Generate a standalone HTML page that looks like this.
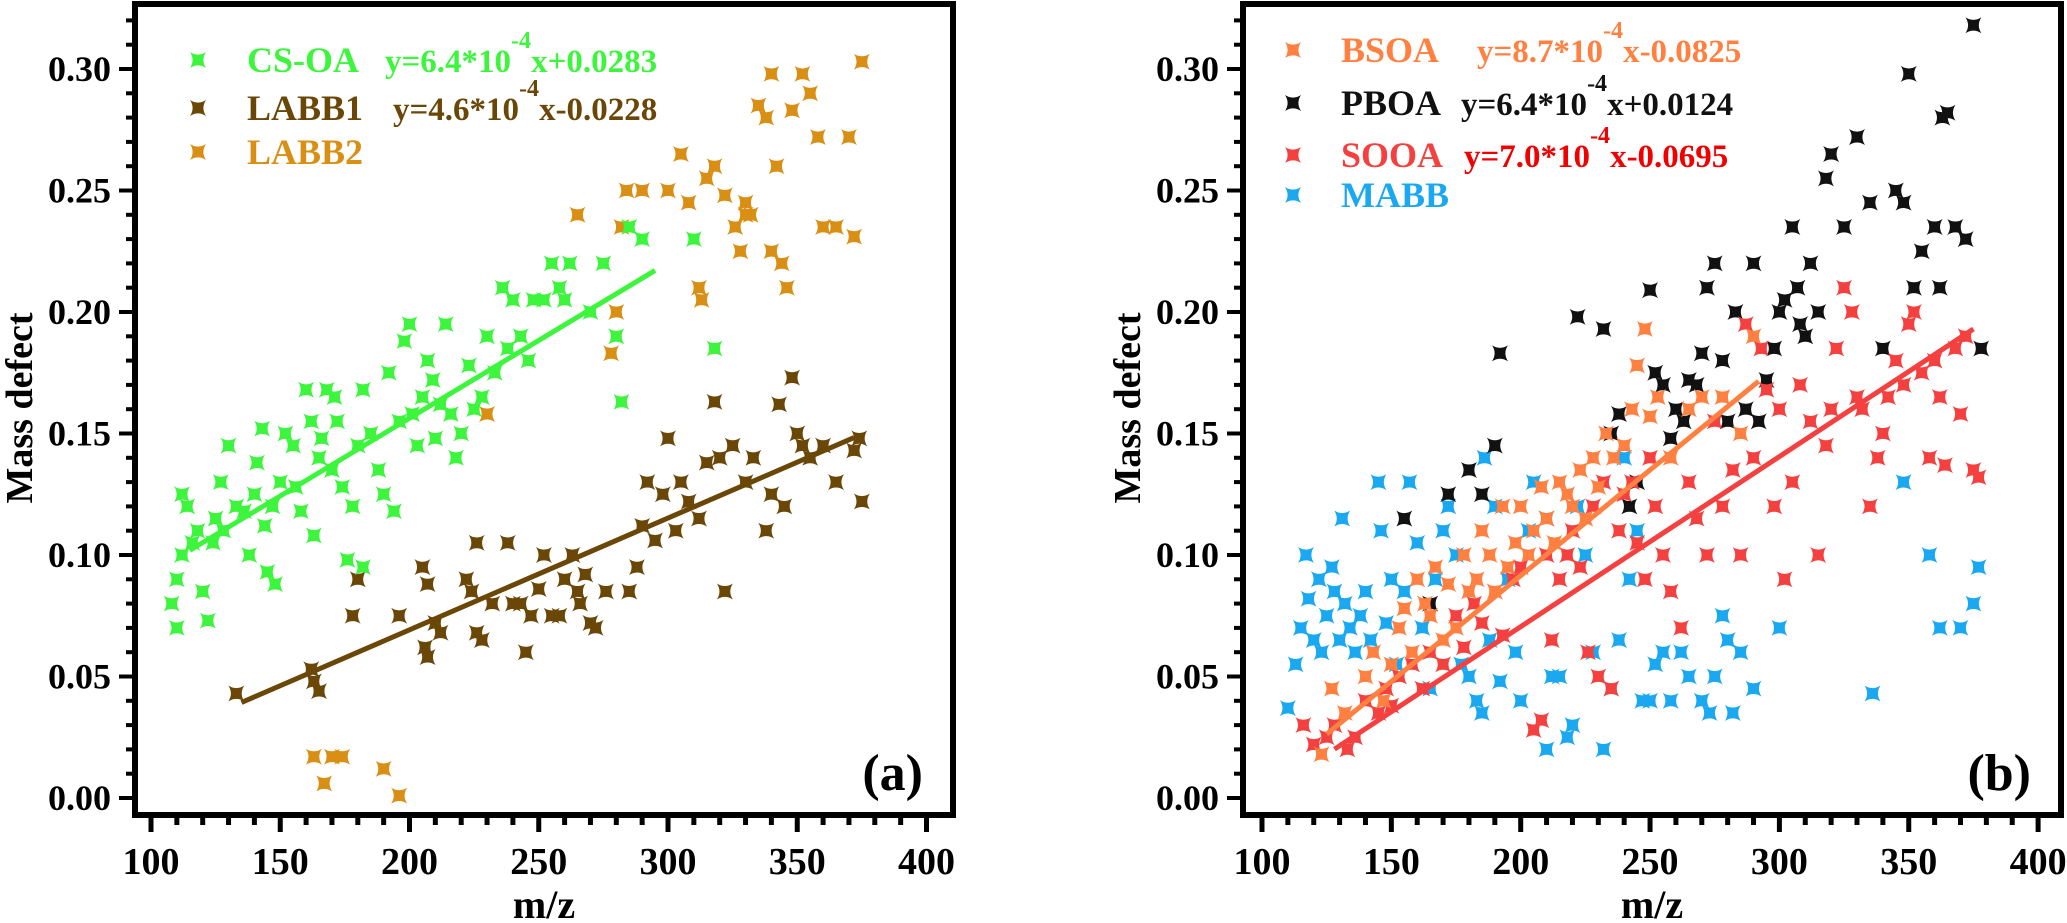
<!DOCTYPE html>
<html><head><meta charset="utf-8"><style>
html,body{margin:0;padding:0;background:#fff;}
svg{display:block;}
svg text{font-family:"Liberation Serif","Times New Roman","DejaVu Serif Condensed","DejaVu Serif",serif !important;font-weight:bold;}
</style></head><body>
<svg id="chart" width="2067" height="923" viewBox="0 0 2067 923" xmlns="http://www.w3.org/2000/svg" font-weight="bold"></svg>
<script>
// ---- Panel (a) data ----
const csoaX=[108,110,110,112,112,114,116,118,120,122,124,125,127,128,130,133,136,138,140,141,143,144,145,147,148,150,152,155,156,158,160,162,163,165,166,168,170,171,172,174,176,178,180,182,182,185,188,190,192,194,196,198,200,201,203,205,207,209,210,212,214,216,218,220,223,225,228,230,233,236,238,240,243,246,248,252,255,258,260,262,270,275,280,282,285,290,310,318];
const csoaY=[0.08,0.09,0.07,0.10,0.125,0.12,0.105,0.11,0.085,0.073,0.105,0.115,0.13,0.11,0.145,0.12,0.118,0.10,0.125,0.138,0.152,0.112,0.093,0.12,0.088,0.13,0.15,0.145,0.128,0.118,0.168,0.155,0.108,0.14,0.148,0.168,0.135,0.165,0.155,0.128,0.098,0.12,0.145,0.168,0.095,0.15,0.135,0.125,0.175,0.118,0.155,0.188,0.195,0.158,0.145,0.165,0.18,0.172,0.148,0.162,0.195,0.158,0.14,0.15,0.178,0.16,0.165,0.19,0.175,0.21,0.185,0.205,0.19,0.18,0.205,0.205,0.22,0.21,0.205,0.22,0.2,0.22,0.19,0.163,0.235,0.23,0.23,0.185];
const labb1X=[133,162,163,165,180,178,196,205,207,206,207,210,212,222,224,226,226,228,232,238,240,243,245,247,250,252,255,258,260,263,265,266,268,270,272,276,285,288,290,292,295,298,300,303,305,308,312,315,318,320,322,325,330,333,338,340,343,345,348,350,352,355,360,365,372,375,374];
const labb1Y=[0.043,0.053,0.048,0.044,0.09,0.075,0.075,0.095,0.088,0.062,0.058,0.072,0.068,0.09,0.085,0.105,0.068,0.065,0.08,0.105,0.08,0.08,0.06,0.075,0.086,0.1,0.075,0.075,0.09,0.1,0.085,0.08,0.092,0.072,0.07,0.085,0.085,0.095,0.112,0.13,0.106,0.125,0.148,0.11,0.13,0.122,0.115,0.138,0.163,0.14,0.085,0.145,0.13,0.14,0.11,0.125,0.162,0.12,0.173,0.15,0.145,0.14,0.145,0.13,0.143,0.122,0.148];
const labb2X=[163,167,170,174,190,196,230,265,278,280,282,284,290,300,305,308,312,313,315,318,322,326,328,330,332,335,338,340,342,344,346,348,352,355,358,360,365,370,372,375,340,330];
const labb2Y=[0.017,0.006,0.017,0.017,0.012,0.001,0.158,0.24,0.183,0.2,0.235,0.25,0.25,0.25,0.265,0.245,0.21,0.205,0.255,0.26,0.248,0.235,0.225,0.245,0.24,0.285,0.28,0.298,0.26,0.22,0.21,0.283,0.298,0.29,0.272,0.235,0.235,0.272,0.231,0.303,0.225,0.24];
// ---- Panel (b) data ----
const bsoaX=[123,127,132,140,143,147,150,153,155,158,160,163,165,167,170,172,175,178,180,183,185,188,190,193,195,198,200,203,205,208,210,213,215,218,220,223,225,228,230,233,236,240,243,245,248,250,253,258,265,270,278,285,290];
const bsoaY=[0.018,0.045,0.035,0.05,0.06,0.04,0.055,0.07,0.078,0.06,0.09,0.08,0.075,0.095,0.065,0.088,0.07,0.1,0.085,0.09,0.11,0.1,0.085,0.12,0.095,0.105,0.12,0.1,0.11,0.128,0.115,0.105,0.13,0.125,0.12,0.135,0.115,0.14,0.128,0.15,0.14,0.145,0.16,0.178,0.193,0.157,0.165,0.14,0.16,0.165,0.165,0.15,0.19];
const pboaX=[155,165,172,180,185,190,192,210,222,232,235,238,242,245,250,252,255,258,260,263,265,268,270,272,275,278,280,283,287,290,292,295,298,300,302,305,307,308,310,312,315,318,320,325,330,335,340,345,348,350,352,355,360,362,363,365,368,372,375,378];
const pboaY=[0.115,0.08,0.125,0.135,0.125,0.145,0.183,0.115,0.198,0.193,0.15,0.158,0.12,0.13,0.209,0.175,0.17,0.148,0.16,0.155,0.172,0.17,0.183,0.21,0.22,0.18,0.155,0.2,0.16,0.22,0.155,0.172,0.185,0.2,0.205,0.235,0.21,0.195,0.19,0.22,0.2,0.255,0.265,0.235,0.272,0.245,0.185,0.25,0.245,0.298,0.21,0.225,0.235,0.21,0.28,0.282,0.235,0.23,0.318,0.185];
const sooaX=[116,120,125,128,133,136,140,145,148,150,153,158,162,165,170,175,178,182,185,190,193,197,200,205,208,210,212,215,218,220,223,226,228,230,232,235,238,240,243,245,248,250,252,255,258,262,265,268,272,275,278,282,285,287,290,293,295,298,300,302,305,308,312,315,318,320,322,325,328,330,332,335,338,340,342,345,348,350,352,355,358,360,362,364,368,370,372,375,377];
const sooaY=[0.03,0.022,0.025,0.03,0.02,0.025,0.04,0.035,0.045,0.038,0.05,0.055,0.045,0.06,0.055,0.075,0.062,0.08,0.072,0.085,0.067,0.09,0.095,0.028,0.032,0.1,0.065,0.09,0.1,0.11,0.095,0.06,0.12,0.05,0.13,0.045,0.11,0.125,0.13,0.105,0.09,0.14,0.12,0.1,0.085,0.07,0.13,0.115,0.1,0.155,0.12,0.135,0.1,0.195,0.14,0.185,0.168,0.12,0.16,0.09,0.13,0.17,0.155,0.1,0.145,0.16,0.185,0.21,0.2,0.165,0.16,0.12,0.14,0.15,0.165,0.18,0.17,0.195,0.2,0.175,0.14,0.18,0.165,0.137,0.185,0.158,0.19,0.135,0.132];
const mabbX=[110,113,115,117,118,120,122,123,125,127,128,130,131,132,134,136,138,140,142,145,146,148,150,152,155,157,160,162,165,167,170,172,175,177,180,183,185,186,188,190,192,195,198,200,203,205,210,212,215,218,220,222,225,228,232,235,238,240,242,245,247,250,252,255,258,262,265,270,273,275,278,280,282,285,290,300,358,362,370,375,377,336,348];
const mabbY=[0.037,0.055,0.07,0.1,0.082,0.065,0.09,0.06,0.075,0.095,0.085,0.065,0.115,0.08,0.07,0.06,0.075,0.085,0.065,0.13,0.11,0.072,0.09,0.055,0.085,0.13,0.105,0.07,0.045,0.09,0.11,0.12,0.1,0.055,0.05,0.04,0.035,0.14,0.065,0.12,0.048,0.09,0.06,0.04,0.11,0.13,0.02,0.05,0.05,0.025,0.03,0.12,0.1,0.06,0.02,0.045,0.065,0.14,0.09,0.11,0.04,0.04,0.055,0.06,0.04,0.06,0.05,0.04,0.035,0.05,0.075,0.065,0.035,0.06,0.045,0.07,0.1,0.07,0.07,0.08,0.095,0.043,0.13];
const xTicks=[100,150,200,250,300,350,400];
const yTicks=[0.00,0.05,0.10,0.15,0.20,0.25,0.30];
const yTickLabels=["0.00","0.05","0.10","0.15","0.20","0.25","0.30"];

const NS="http://www.w3.org/2000/svg";
const svg=document.getElementById('chart');
function mk(tag,attrs,parent){const e=document.createElementNS(NS,tag);for(const k in attrs)e.setAttribute(k,attrs[k]);(parent||svg).appendChild(e);return e;}
function star(cx,cy,r){return `M${cx-r},${cy-r} Q${cx},${cy-r*0.35} ${cx+r},${cy-r} Q${cx+r*0.35},${cy} ${cx+r},${cy+r} Q${cx},${cy+r*0.35} ${cx-r},${cy+r} Q${cx-r*0.35},${cy} ${cx-r},${cy-r}Z`;}

function makePanel(p){
  const g=mk('g',{});
  
  
  const X=v=>p.x0+(v-100)*p.sx;
  const Y=v=>798-v*2430;
  for(let v=100;v<=400;v+=10){
    const major=(v%50===0);
    const t=mk('line',{x1:X(v),x2:X(v),y1:815,y2:major?832:825,stroke:'#000','stroke-width':5},g);
    
    
  }
  for(let i=0;i<=32;i++){
    const v=i/100;const major=(i%5===0);
    const t=mk('line',{x1:p.left,x2:p.left-(major?16:9),y1:Y(v),y2:Y(v),stroke:'#000','stroke-width':4},g);
    
    
  }
  xTicks.forEach(v=>{
    const t=mk('text',{x:X(v),y:874,'text-anchor':'middle','font-size':38},g);
    t.textContent=v;
    
    
  });
  yTicks.forEach((v,i)=>{
    const t=mk('text',{x:p.left-24,y:Y(v)+12,'text-anchor':'end','font-size':36},g);
    t.textContent=yTickLabels[i];
    
    
  });
  const xt=mk('text',{x:(p.left+p.right)/2,y:918,'text-anchor':'middle','font-size':40},g);
  xt.textContent='m/z';
  
  
  const yt=mk('text',{x:0,y:0,'text-anchor':'middle','font-size':38,transform:`translate(${p.left-103},408) rotate(-90)`},g);
  yt.textContent='Mass defect';
  
  
  p.series.forEach(s=>{
    const sg=mk('g',{fill:s.color},g);
    
    
    s.xs.forEach((xv,i)=>{
      const m=mk('path',{d:star(X(xv),Y(s.ys[i]),8)},sg);
      
      
    });
  });
  p.fits.forEach(f=>{
    const l=mk('line',{x1:X(f.a),y1:Y(f.m*f.a+f.b),x2:X(f.c),y2:Y(f.m*f.c+f.b),stroke:f.color,'stroke-width':5},g);
    
    
  });
  p.legend.forEach(L=>{
    const m=mk('path',{fill:L.color,d:star(L.mx,L.y-12,8)},g);
    
    
    const t=mk('text',{x:L.tx,y:L.y,fill:L.color,'font-size':36},g);
    t.textContent=L.label;
    
    
    if(L.eq){
      const e=mk('text',{x:L.ex,y:L.y,fill:L.eqColor||L.color,'font-size':33},g);
      
      
      const a=mk('tspan',{},e);a.textContent=L.eq[0];
      const b=mk('tspan',{dy:-24,'font-size':24},e);b.textContent='-4';
      const c=mk('tspan',{dy:24},e);c.textContent=L.eq[1];
    }
  });
  const lab=mk('text',{x:p.right-30,y:790,'text-anchor':'end','font-size':52},g);
  lab.textContent=p.label;
  
  
  const fr=mk('rect',{x:p.left,y:4,width:p.right-p.left,height:811,fill:'none',stroke:'#000','stroke-width':6},g);
  
  
}

makePanel({name:'panel-a',label:'(a)',left:135,right:953,x0:151,sx:2.585,
  series:[{key:'labb2',color:'#D98E14',xs:labb2X,ys:labb2Y},{key:'labb1',color:'#6B4707',xs:labb1X,ys:labb1Y},{key:'cs-oa',color:'#3EF53E',xs:csoaX,ys:csoaY}],
  fits:[{key:'cs-oa',color:'#3EF53E',m:6.4e-4,b:0.0283,a:115,c:295},{key:'labb1',color:'#6B4707',m:4.6e-4,b:-0.0228,a:135,c:372}],
  legend:[{mx:198,tx:247,y:72,color:'#3EF53E',label:'CS-OA',ex:385,eq:['y=6.4*10','x+0.0283']},
          {mx:198,tx:247,y:120,color:'#6B4707',label:'LABB1',ex:393,eq:['y=4.6*10','x-0.0228']},
          {mx:198,tx:247,y:164,color:'#D98E14',label:'LABB2'}]});
makePanel({name:'panel-b',label:'(b)',left:1243,right:2061,x0:1262,sx:2.587,
  series:[{key:'mabb',color:'#1AA8F0',xs:mabbX,ys:mabbY},{key:'pboa',color:'#111111',xs:pboaX,ys:pboaY},{key:'sooa',color:'#F54040',xs:sooaX,ys:sooaY},{key:'bsoa',color:'#FF8040',xs:bsoaX,ys:bsoaY}],
  fits:[{key:'bsoa',color:'#FF8040',m:8.7e-4,b:-0.0825,a:125,c:292},{key:'sooa',color:'#F54040',m:7.0e-4,b:-0.0695,a:128,c:375}],
  legend:[{mx:1293,tx:1341,y:62,color:'#FF8040',label:'BSOA',ex:1477,eq:['y=8.7*10','x-0.0825']},
          {mx:1293,tx:1341,y:115,color:'#111111',label:'PBOA',ex:1461,eq:['y=6.4*10','x+0.0124']},
          {mx:1293,tx:1341,y:167,color:'#F54040',label:'SOOA',ex:1464,eq:['y=7.0*10','x-0.0695'],eqColor:'#F00000'},
          {mx:1293,tx:1341,y:207,color:'#1AA8F0',label:'MABB'}]});
</script>
</body></html>
